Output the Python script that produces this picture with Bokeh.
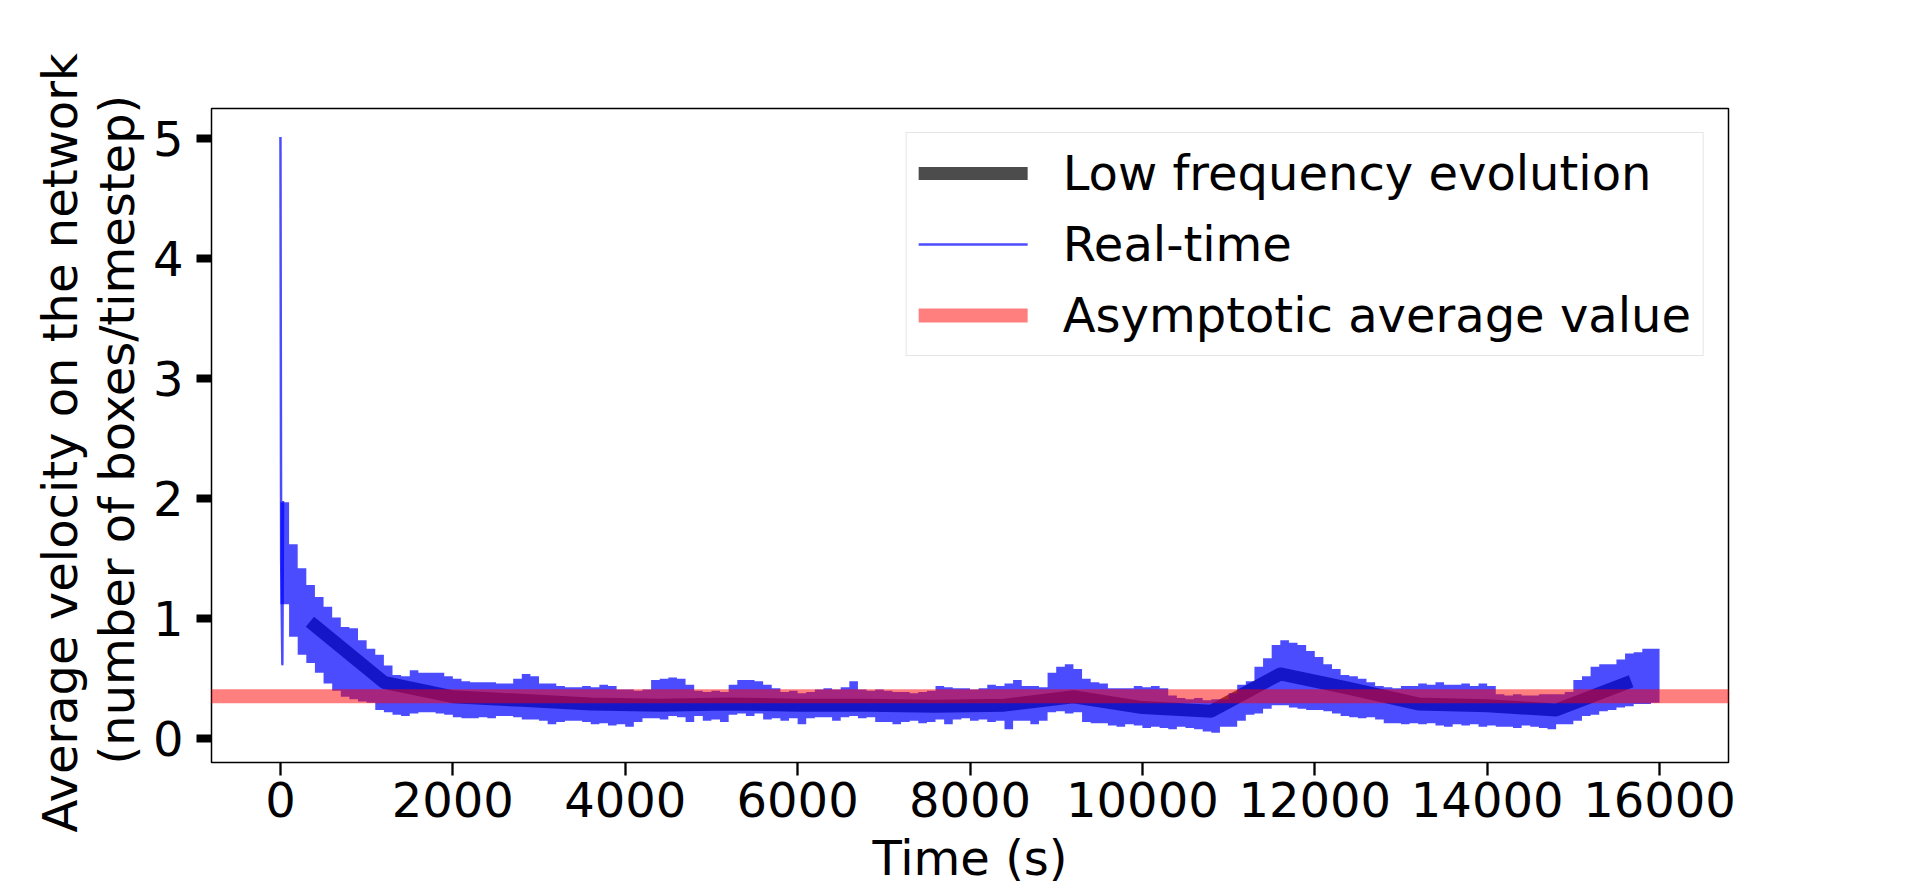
import numpy as np
from bokeh.plotting import figure
from bokeh.models import Range1d, FixedTicker, Legend, LegendItem, Title
from bokeh.embed import file_html
from bokeh.resources import INLINE

FONT = "DejaVu Sans"

# axis limits and ticks
x_limits = [-800, 16800]
y_limits = [-0.1975, 5.2475]
x_ticks = [0, 2000, 4000, 6000, 8000, 10000, 12000, 14000, 16000]
y_ticks = [0, 1, 2, 3, 4, 5]

# low frequency evolution
lf_time = [400, 1200, 2000, 2800, 3600, 4400, 5200, 6000, 6800, 7600,
           8400, 9200, 10000, 10800, 11600, 12400, 13200, 14000, 14800, 15600]
lf_velocity = [0.94, 0.47, 0.35, 0.32, 0.29, 0.28, 0.29, 0.28, 0.28, 0.27,
               0.28, 0.35, 0.26, 0.23, 0.54, 0.42, 0.29, 0.275, 0.24, 0.46]

# real-time signal: initial spike
rt_head_time = [0, 8, 22, 30]
rt_head_velocity = [5.0, 1.5, 0.62, 1.97]

# real-time signal: envelope per 100 s bin (bin centres)
rt_bin_time = list(range(50, 16000, 100))
rt_upper = [
    1.97, 1.62, 1.42, 1.28, 1.18, 1.10, 1.01, 0.93, 0.92, 0.82,
    0.75, 0.70, 0.61, 0.53, 0.52, 0.57, 0.55, 0.55, 0.55, 0.52,
    0.50, 0.48, 0.47, 0.47, 0.47, 0.46, 0.46, 0.50, 0.54, 0.52,
    0.46, 0.46, 0.44, 0.43, 0.43, 0.44, 0.43, 0.45, 0.44, 0.41,
    0.41, 0.40, 0.41, 0.49, 0.50, 0.51, 0.50, 0.45, 0.40, 0.39,
    0.40, 0.39, 0.45, 0.49, 0.49, 0.48, 0.45, 0.42, 0.39, 0.40,
    0.38, 0.39, 0.41, 0.42, 0.41, 0.43, 0.48, 0.41, 0.40, 0.41,
    0.40, 0.39, 0.39, 0.38, 0.39, 0.40, 0.44, 0.43, 0.42, 0.42,
    0.41, 0.42, 0.45, 0.44, 0.46, 0.49, 0.44, 0.44, 0.43, 0.55,
    0.60, 0.62, 0.58, 0.50, 0.47, 0.46, 0.42, 0.42, 0.42, 0.44,
    0.43, 0.44, 0.42, 0.36, 0.34, 0.33, 0.34, 0.32, 0.33, 0.33,
    0.38, 0.45, 0.48, 0.60, 0.67, 0.78, 0.82, 0.80, 0.78, 0.73,
    0.68, 0.62, 0.58, 0.53, 0.52, 0.50, 0.47, 0.44, 0.43, 0.42,
    0.44, 0.44, 0.46, 0.45, 0.47, 0.45, 0.45, 0.46, 0.44, 0.46,
    0.44, 0.37, 0.36, 0.37, 0.36, 0.36, 0.37, 0.37, 0.37, 0.39,
    0.49, 0.52, 0.60, 0.62, 0.62, 0.66, 0.71, 0.72, 0.75, 0.75,
]
rt_lower = [
    1.12, 0.85, 0.70, 0.63, 0.55, 0.46, 0.40, 0.35, 0.33, 0.31,
    0.30, 0.24, 0.22, 0.20, 0.19, 0.21, 0.22, 0.22, 0.21, 0.20,
    0.18, 0.17, 0.17, 0.18, 0.17, 0.19, 0.19, 0.18, 0.16, 0.16,
    0.15, 0.12, 0.14, 0.15, 0.15, 0.14, 0.12, 0.13, 0.11, 0.12,
    0.10, 0.14, 0.17, 0.17, 0.16, 0.19, 0.18, 0.14, 0.19, 0.15,
    0.16, 0.14, 0.20, 0.21, 0.19, 0.21, 0.16, 0.17, 0.15, 0.17,
    0.12, 0.17, 0.18, 0.18, 0.15, 0.18, 0.19, 0.17, 0.18, 0.14,
    0.14, 0.12, 0.14, 0.15, 0.13, 0.14, 0.16, 0.12, 0.16, 0.17,
    0.15, 0.16, 0.14, 0.15, 0.08, 0.15, 0.15, 0.12, 0.15, 0.22,
    0.23, 0.21, 0.22, 0.14, 0.13, 0.13, 0.11, 0.10, 0.12, 0.11,
    0.09, 0.10, 0.09, 0.08, 0.10, 0.09, 0.08, 0.06, 0.05, 0.10,
    0.10, 0.15, 0.20, 0.21, 0.25, 0.28, 0.28, 0.26, 0.25, 0.24,
    0.24, 0.23, 0.21, 0.19, 0.18, 0.17, 0.18, 0.16, 0.13, 0.13,
    0.12, 0.13, 0.12, 0.13, 0.11, 0.10, 0.12, 0.11, 0.12, 0.10,
    0.11, 0.10, 0.10, 0.09, 0.11, 0.10, 0.09, 0.08, 0.12, 0.12,
    0.15, 0.19, 0.20, 0.23, 0.24, 0.26, 0.27, 0.29, 0.29, 0.30,
]
rt_bin_width = 100

asymptotic_value = 0.355

labels = ["Low frequency evolution", "Real-time", "Asymptotic average value"]

# ---------------------------------------------------------------
p = figure(
    output_backend="svg", toolbar_location=None, title=None,
    frame_width=1517, frame_height=654,
    min_border_left=211, min_border_top=108, min_border_right=170, min_border_bottom=120,
    x_range=Range1d(*x_limits), y_range=Range1d(*y_limits),
)
p.background_fill_color = "white"
p.border_fill_color = "white"
p.outline_line_color = "black"
p.outline_line_width = 1.5
p.xgrid.visible = False
p.ygrid.visible = False

# low frequency line (drawn first)
r_lf = p.line(lf_time, lf_velocity, line_color="black", line_alpha=0.7,
              line_width=13, line_cap="square", line_join="round")

# real-time band from per-bin envelope (step edges)
t = np.asarray(rt_bin_time, dtype=float)
xs = np.column_stack([t - rt_bin_width / 2, t + rt_bin_width / 2]).ravel()
y_lo = np.repeat(np.asarray(rt_lower), 2)
y_hi = np.repeat(np.asarray(rt_upper), 2)
p.varea(x=xs, y1=y_lo, y2=y_hi, fill_color="#0000ff", fill_alpha=0.7)
r_rt = p.line(rt_head_time, rt_head_velocity, line_color="#0000ff", line_alpha=0.7,
              line_width=2.5, line_cap="square", line_join="round")

# asymptotic value across the axes
r_as = p.line(x_limits, [asymptotic_value, asymptotic_value], line_color="#ff0000",
              line_alpha=0.5, line_width=14, line_cap="square")

# axes
for ax in (p.xaxis[0], p.yaxis[0]):
    ax.axis_line_color = None
    ax.minor_tick_line_color = None
    ax.major_tick_in = 0
    ax.major_label_text_font = FONT
    ax.major_label_text_font_size = "48px"
    ax.major_label_text_color = "black"
    ax.axis_label_text_font = FONT
    ax.axis_label_text_font_size = "48px"
    ax.axis_label_text_font_style = "normal"
    ax.axis_label_text_color = "black"

p.xaxis.ticker = FixedTicker(ticks=x_ticks)
p.yaxis.ticker = FixedTicker(ticks=y_ticks)
p.xaxis.major_tick_out = 13
p.xaxis.major_tick_line_width = 2.3
p.xaxis.major_label_standoff = 6
p.xaxis.axis_label = "Time (s)"
p.xaxis.axis_label_standoff = 10

p.yaxis.major_tick_out = 15
p.yaxis.major_tick_line_width = 8
p.yaxis.major_label_standoff = 13

t2 = Title(text="(number of boxes/timestep)", align="left", text_font=FONT,
           text_font_size="48px", text_font_style="normal", text_color="black",
           standoff=9, offset=-2)
p.add_layout(t2, "left")
t1 = Title(text="Average velocity on the network", align="left", text_font=FONT,
           text_font_size="48px", text_font_style="normal", text_color="black",
           standoff=-10, offset=-70)
p.add_layout(t1, "left")

legend = Legend(items=[LegendItem(label=labels[0], renderers=[r_lf]),
                       LegendItem(label=labels[1], renderers=[r_rt]),
                       LegendItem(label=labels[2], renderers=[r_as])],
                location="top_right")
legend.margin = 24
legend.padding = 12
legend.spacing = 15
legend.glyph_width = 109
legend.glyph_height = 56
legend.label_height = 56
legend.label_standoff = 35
legend.label_text_font = FONT
legend.label_text_font_size = "48px"
legend.label_text_color = "black"
legend.border_line_color = "#cccccc"
legend.border_line_width = 1.5
legend.background_fill_color = "white"
legend.background_fill_alpha = 0.8
p.add_layout(legend, "center")

open("out.html", "w").write(file_html(p, INLINE))
